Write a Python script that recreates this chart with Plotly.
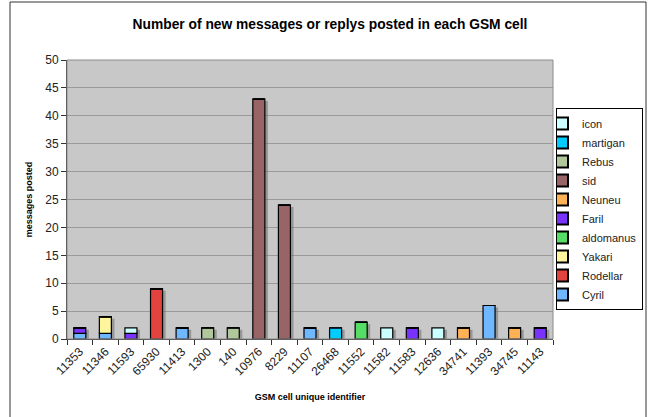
import plotly.graph_objects as go

cells = ["11353", "11346", "11593", "65930", "11413", "1300", "140", "10976", "8229",
         "11107", "26468", "11552", "11582", "11583", "12636", "34741", "11393", "34745", "11143"]

# series in stacking order (bottom -> top)
Cyril     = [1, 1, 0, 0, 2, 0, 0, 0, 0, 2, 0, 0, 0, 0, 0, 0, 6, 0, 0]
Rodellar  = [0, 0, 0, 9, 0, 0, 0, 0, 0, 0, 0, 0, 0, 0, 0, 0, 0, 0, 0]
Yakari    = [0, 3, 0, 0, 0, 0, 0, 0, 0, 0, 0, 0, 0, 0, 0, 0, 0, 0, 0]
aldomanus = [0, 0, 0, 0, 0, 0, 0, 0, 0, 0, 0, 3, 0, 0, 0, 0, 0, 0, 0]
Faril     = [1, 0, 1, 0, 0, 0, 0, 0, 0, 0, 0, 0, 0, 2, 0, 0, 0, 0, 2]
Neuneu    = [0, 0, 0, 0, 0, 0, 0, 0, 0, 0, 0, 0, 0, 0, 0, 2, 0, 2, 0]
sid       = [0, 0, 0, 0, 0, 0, 0, 43, 24, 0, 0, 0, 0, 0, 0, 0, 0, 0, 0]
Rebus     = [0, 0, 0, 0, 0, 2, 2, 0, 0, 0, 0, 0, 0, 0, 0, 0, 0, 0, 0]
martigan  = [0, 0, 0, 0, 0, 0, 0, 0, 0, 0, 2, 0, 0, 0, 0, 0, 0, 0, 0]
icon      = [0, 0, 1, 0, 0, 0, 0, 0, 0, 0, 0, 0, 2, 0, 2, 0, 0, 0, 0]

series_names = ["Cyril", "Rodellar", "Yakari", "aldomanus", "Faril",
                "Neuneu", "sid", "Rebus", "martigan", "icon"]
series_values = [Cyril, Rodellar, Yakari, aldomanus, Faril, Neuneu, sid, Rebus, martigan, icon]
colors = ["#6FB7FF", "#E2433F", "#FFF59C", "#55DD66", "#7A33FF",
          "#FFB155", "#996465", "#AFC79B", "#00CCFF", "#CCFFFF"]

y_ticks = list(range(0, 51, 5))

W = 0.47
OFF = -W / 2

fig = go.Figure()

# shadow behind stacks
totals = [sum(v[i] for v in series_values) for i in range(len(cells))]
shadow_y = [t - 0.35 if t > 0 else 0 for t in totals]
fig.add_trace(go.Bar(x=cells, y=shadow_y, base=0, width=W, offset=OFF + 0.12,
                     marker=dict(color="rgba(110,110,110,0.55)", line=dict(width=0)),
                     showlegend=False, hoverinfo="skip"))

cum = [0] * len(cells)
for name, vals, col in zip(series_names, series_values, colors):
    fig.add_trace(go.Bar(
        x=cells, y=vals, base=list(cum), name=name, width=W, offset=OFF,
        marker=dict(color=col, line=dict(color="black", width=1.2)),
    ))
    cum = [c + v for c, v in zip(cum, vals)]

L, R, T, B = 67, 95, 60, 78
PW, PH = 648 - L - R, 417 - T - B

def px(xp):
    return (xp - L) / PW

def py(yp):
    return (417 - B - yp) / PH

font = "Liberation Sans, Arial, sans-serif"

fig.update_layout(
    width=648, height=417,
    margin=dict(l=L, r=R, t=T, b=B, autoexpand=False),
    barmode="overlay",
    paper_bgcolor="white",
    plot_bgcolor="#C8C8C8",
    font=dict(family=font, size=12, color="black"),
    title=dict(text="<b>Number of new messages or replys posted in each GSM cell</b>",
               x=330 / 648, xanchor="center", y=1 - 24 / 417, yanchor="middle",
               font=dict(size=13.8, family=font)),
    xaxis=dict(
        type="category", categoryorder="array", categoryarray=cells,
        tickangle=-45, tickson="boundaries", ticks="outside", ticklen=5,
        tickcolor="#333333", showline=True, linecolor="#333333", linewidth=1,
        tickfont=dict(size=12, color="#222222"),
        title=dict(text="<b>GSM cell unique identifier</b>", font=dict(size=9), standoff=16),
        showgrid=False, range=[-0.5, len(cells) - 0.5],
    ),
    yaxis=dict(
        range=[0, 50], tickvals=y_ticks, ticks="outside", ticklen=5,
        tickcolor="#333333", showline=True, linecolor="#333333", linewidth=1,
        gridcolor="#9A9A9A", gridwidth=1, zeroline=False,
        tickfont=dict(size=12, color="#222222"),
        title=dict(text="<b>messages posted</b>", font=dict(size=9), standoff=11),
    ),
    legend=dict(
        x=px(643), y=py(108), xanchor="right", yanchor="top",
        traceorder="reversed", bordercolor="black", borderwidth=1,
        bgcolor="white", font=dict(size=11, color="#222222"),
        itemsizing="constant", tracegroupgap=0, itemwidth=30, indentation=-15,
    ),
    shapes=[
        dict(type="rect", xref="paper", yref="paper", x0=0, x1=1, y0=0, y1=1,
             line=dict(color="#8C8C8C", width=1), fillcolor="rgba(0,0,0,0)", layer="above"),
        dict(type="rect", xref="paper", yref="paper", x0=px(10), x1=px(646),
             y0=py(418), y1=py(2), line=dict(color="#333333", width=1),
             fillcolor="rgba(0,0,0,0)"),
    ],
)

fig.write_html("out.html")
